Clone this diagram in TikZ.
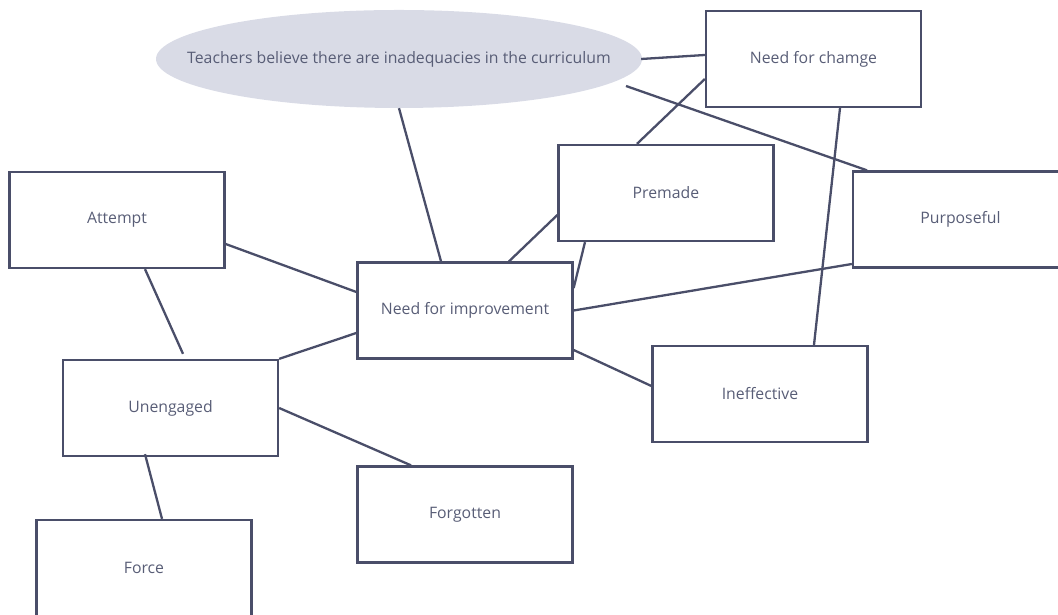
\documentclass[tikz,border=0pt]{standalone}
\usepackage{fontspec}
\setmainfont{Open Sans}
\usepackage{tikz}
\usetikzlibrary{shapes.geometric}
\usepackage{xcolor}
\definecolor{mmline}{RGB}{74,78,105}
\definecolor{mmtext}{RGB}{88,93,118}
\definecolor{mmfill}{RGB}{217,219,230}
\tikzset{
  mmbox/.style={draw=mmline, line width=2.3pt, rectangle, minimum width=215pt, minimum height=96pt, text=mmtext, font=\fontsize{15.8}{18}\selectfont, inner sep=0pt},
  mmoval/.style={ellipse, fill=mmfill, minimum width=486pt, minimum height=98pt, text=mmtext, font=\fontsize{15.8}{18}\selectfont, inner xsep=-48pt, inner ysep=0pt},
  mmlink/.style={draw=mmline, line width=2.3pt},
}

\begin{document}
\begin{tikzpicture}[x=1pt, y=1pt]
  \clip (0,0) rectangle (1058,615);
  \node[mmoval] (belief) at (399,556) {Teachers believe there are inadequacies in the curriculum};
  \node[mmbox] (change) at (813.5,556) {Need for chamge};
  \node[mmbox] (attempt) at (117,395) {Attempt};
  \node[mmbox] (premade) at (666,422) {Premade};
  \node[mmbox] (purpose) at (960.5,395.5) {Purposeful};
  \node[mmbox] (improve) at (465,304.5) {Need for improvement};
  \node[mmbox] (unengaged) at (170.5,207) {Unengaged};
  \node[mmbox] (ineffect) at (760,221) {Ineffective};
  \node[mmbox] (forgot) at (465,100.5) {Forgotten};
  \node[mmbox] (force) at (144,47) {Force};

  \draw[mmlink] ([xshift=-1pt]belief.east) -- ([yshift=4pt]change.west);
  \draw[mmlink] ([xshift=227pt, yshift=-27pt]belief.center) -- ([xshift=-93.5pt]purpose.north);
  \draw[mmlink] (belief.south) -- ([xshift=-24pt]improve.north);
  \draw[mmlink] ([yshift=-20pt]change.west) -- ([xshift=-29pt]premade.north);
  \draw[mmlink] ([xshift=26.5pt]change.south) -- ([xshift=54pt]ineffect.north);
  \draw[mmlink] ([yshift=-22pt]premade.west) -- ([xshift=44pt]improve.north);
  \draw[mmlink] ([xshift=-81pt]premade.south) -- ([yshift=22.5pt]improve.east);
  \draw[mmlink] ([yshift=-44.5pt]purpose.west) -- (improve.east);
  \draw[mmlink] ([yshift=-39.5pt]improve.east) -- ([yshift=8pt]ineffect.west);
  \draw[mmlink] ([yshift=-24pt]attempt.east) -- ([yshift=18.5pt]improve.west);
  \draw[mmlink] ([xshift=28pt]attempt.south) -- ([xshift=12.5pt, yshift=5pt]unengaged.north);
  \draw[mmlink] (unengaged.north east) -- ([yshift=-22.5pt]improve.west);
  \draw[mmlink] (unengaged.east) -- ([xshift=-54pt]forgot.north);
  \draw[mmlink] ([xshift=-25.5pt, yshift=3pt]unengaged.south) -- ([xshift=18pt]force.north);
\end{tikzpicture}
\end{document}
